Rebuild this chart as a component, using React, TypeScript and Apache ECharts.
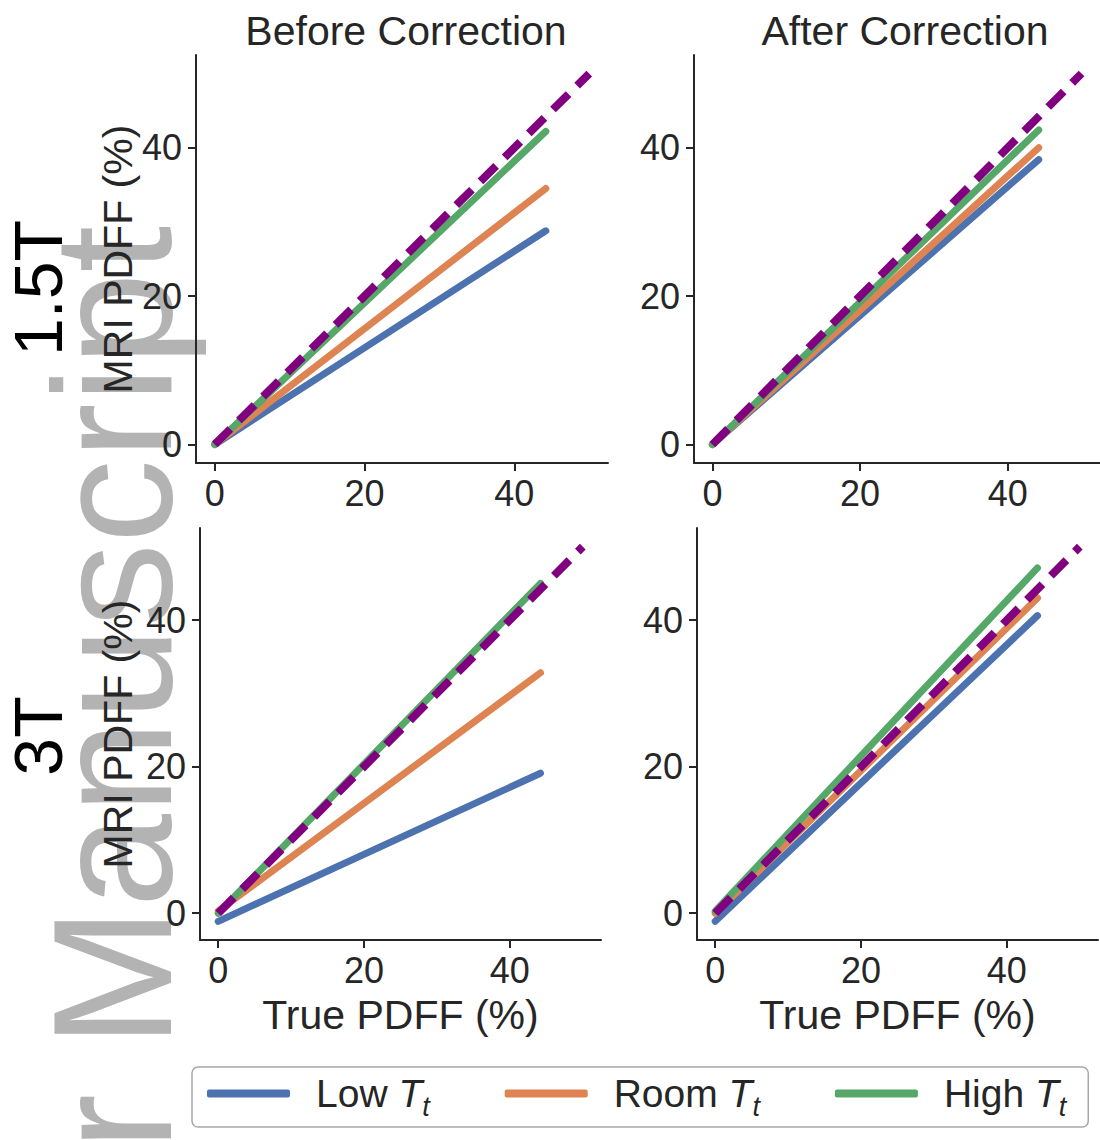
import React, { useEffect, useRef } from 'react';
import * as echarts from 'echarts';

const FONT = '"Liberation Sans", Arial, Helvetica, sans-serif';
const TEXT = '#262626';

// ---- data ----
const panelTitles = ['Before Correction', 'After Correction'];
const rowLabels = ['1.5T', '3T'];
const legendNames = ['Low', 'Room', 'High'];
const xTicks = [0, 20, 40];
const yTicks = [0, 20, 40];
const fitX = [0, 44.2];
const identityX = [0, 50];
const identityY = [0, 50];
const xAxisLabel = 'True PDFF (%)';
const yAxisLabel = 'MRI PDFF (%)';
const watermark = 'r Manuscript';

// panels: 1.5T before, 1.5T after, 3T before, 3T after  -> [value at x=0, value at x=end]
const lowTt = [[0, 28.8], [0, 38.4], [-1.1, 19.1], [-1.1, 40.6]];
const roomTt = [[0, 34.5], [0, 40.0], [0.3, 32.8], [0, 43.0]];
const highTt = [[0, 42.2], [0, 42.4], [0, 45.0], [0.3, 47.1]];

// ---- layout / style ----
const COLORS = ['#4C72B0', '#DD8452', '#55A868'];
const PURPLE = '#800080';
const grids = [
  { left: 196, top: 55, width: 412, height: 408 },
  { left: 694, top: 55, width: 410, height: 408 },
  { left: 200, top: 528, width: 401, height: 412 },
  { left: 697, top: 528, width: 401, height: 412 },
];
const xRange = [-2.5, 52.5];
const yRanges = [[-2.5, 52.5], [-2.5, 52.5], [-3.65, 52.55], [-3.65, 52.55]];

function buildOption() {
  const axisLine = { show: true, onZero: false, lineStyle: { color: TEXT, width: 2 } };
  const xAxis = grids.map((_, i) => ({
    type: 'value',
    gridIndex: i,
    min: xRange[0],
    max: xRange[1],
    splitLine: { show: false },
    axisLine,
    axisTick: { show: true, length: 8, lineStyle: { color: TEXT, width: 2 }, customValues: xTicks },
    axisLabel: { customValues: xTicks, fontSize: 36, color: TEXT, fontFamily: FONT, margin: 12 },
    name: i >= 2 ? xAxisLabel : '',
    nameLocation: 'middle',
    nameGap: 54,
    nameTextStyle: { fontSize: 41, color: TEXT, fontFamily: FONT },
  }));
  const yAxis = grids.map((_, i) => ({
    type: 'value',
    gridIndex: i,
    min: yRanges[i][0],
    max: yRanges[i][1],
    splitLine: { show: false },
    axisLine,
    axisTick: { show: true, length: 8, lineStyle: { color: TEXT, width: 2 }, customValues: yTicks },
    axisLabel: { customValues: yTicks, fontSize: 36, color: TEXT, fontFamily: FONT, margin: 14 },
    name: i % 2 === 0 ? yAxisLabel : '',
    nameLocation: 'middle',
    nameRotate: 90,
    nameGap: i === 0 ? 58 : 62,
    nameTextStyle: { fontSize: 41, color: TEXT, fontFamily: FONT },
  }));

  const series: any[] = [];
  const groups = [lowTt, roomTt, highTt];
  grids.forEach((_, i) => {
    groups.forEach((g, k) => {
      series.push({
        type: 'line',
        name: legendNames[k],
        xAxisIndex: i,
        yAxisIndex: i,
        data: [[fitX[0], g[i][0]], [fitX[1], g[i][1]]],
        showSymbol: false,
        symbol: 'none',
        lineStyle: { color: COLORS[k], width: 7, cap: 'round' },
        itemStyle: { color: COLORS[k] },
        z: 2 + k,
      });
    });
    series.push({
      type: 'line',
      name: 'Identity',
      xAxisIndex: i,
      yAxisIndex: i,
      data: [[identityX[0], identityY[0]], [identityX[1], identityY[1]]],
      showSymbol: false,
      symbol: 'none',
      lineStyle: { color: PURPLE, width: 8, type: [22, 12], cap: 'butt' },
      z: 6,
    });
  });

  const graphic: any[] = [
    {
      type: 'text', x: 113, y: 1150, rotation: Math.PI / 2, z: -10,
      style: { text: watermark, fontSize: 168, fontFamily: FONT, fill: '#b3b3b3', textAlign: 'left', textVerticalAlign: 'middle', align: 'left', verticalAlign: 'middle' },
    },
    {
      type: 'text', x: 38, y: 288, rotation: Math.PI / 2, z: 10,
      style: { text: rowLabels[0], fontSize: 68, fontFamily: FONT, fill: '#000', textAlign: 'center', textVerticalAlign: 'middle', align: 'center', verticalAlign: 'middle' },
    },
    {
      type: 'text', x: 38, y: 736, rotation: Math.PI / 2, z: 10,
      style: { text: rowLabels[1], fontSize: 68, fontFamily: FONT, fill: '#000', textAlign: 'center', textVerticalAlign: 'middle', align: 'center', verticalAlign: 'middle' },
    },
    {
      type: 'text', x: 406, y: 31, z: 10,
      style: { text: panelTitles[0], fontSize: 41, fontFamily: FONT, fill: TEXT, textAlign: 'center', textVerticalAlign: 'middle', align: 'center', verticalAlign: 'middle' },
    },
    {
      type: 'text', x: 905, y: 31, z: 10,
      style: { text: panelTitles[1], fontSize: 41, fontFamily: FONT, fill: TEXT, textAlign: 'center', textVerticalAlign: 'middle', align: 'center', verticalAlign: 'middle' },
    },
  ];

  return {
    animation: false,
    backgroundColor: '#ffffff',
    grid: grids.map((g) => ({ ...g, containLabel: false })),
    xAxis,
    yAxis,
    series,
    graphic,
    legend: {
      data: legendNames,
      left: 192,
      top: 1067,
      orient: 'horizontal',
      padding: [7, 22, 7, 15],
      itemGap: 75,
      itemWidth: 83,
      itemHeight: 8,
      icon: 'roundRect',
      borderColor: '#a8a8a8',
      borderWidth: 1.5,
      borderRadius: 6,
      backgroundColor: '#ffffff',
      selectedMode: false,
      formatter: (name: string) => `${name} {i|T}{s|t}`,
      textStyle: {
        fontSize: 39,
        color: TEXT,
        fontFamily: FONT,
        padding: [0, 0, 0, 21],
        rich: {
          i: { fontSize: 39, fontStyle: 'italic', color: TEXT, fontFamily: FONT },
          s: { fontSize: 27, fontStyle: 'italic', color: TEXT, fontFamily: FONT, padding: [26, 0, 0, 0] },
        },
      },
    },
  };
}

export default function App() {
  const ref = useRef<HTMLDivElement>(null);
  useEffect(() => {
    const chart = echarts.init(ref.current as HTMLDivElement, null, { renderer: 'svg' });
    chart.setOption(buildOption() as any);
    return () => chart.dispose();
  }, []);
  return (
    <div
      ref={ref}
      style={{ position: 'absolute', left: 0, top: 0, width: 1100, height: 1140, background: '#fff' }}
    />
  );
}
